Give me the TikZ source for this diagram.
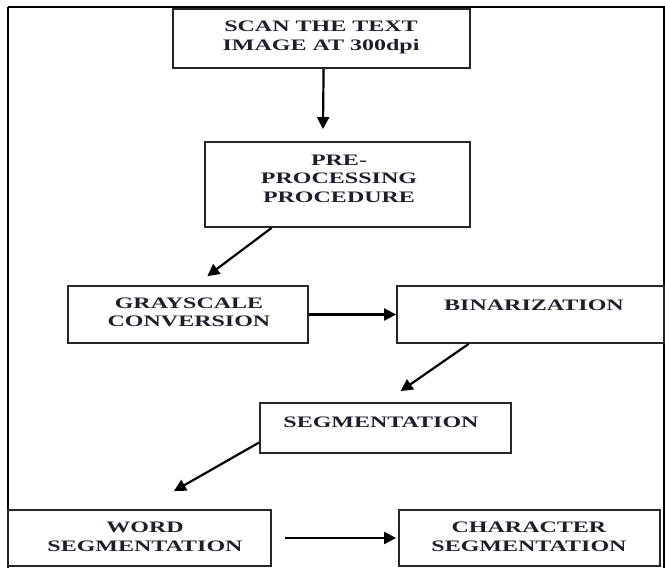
\documentclass[tikz,border=0pt]{standalone}
\usepackage{fontspec}
\usetikzlibrary{arrows.meta,calc}
\newfontfamily\boxfont{Liberation Serif}[FakeStretch=1.5]
\definecolor{ink}{HTML}{1E1E2C}
\definecolor{edge}{HTML}{262626}
\begin{document}
\begin{tikzpicture}[x=1pt,y=-1pt,
  box/.style={draw=edge, line width=1.8pt, inner sep=0pt, fill=none},
  txt/.style={font=\boxfont\bfseries\fontsize{16}{18.5}\selectfont,
    text=ink, align=center, inner sep=0pt},
  arr/.style={draw=black, line width=2.2pt,
    -{Triangle[length=12pt,width=12pt]}},
  frame/.style={draw=black, line width=2.6pt}]
  \useasboundingbox (0,0) rectangle (665,568);
  \clip (0,0) rectangle (665,568);

  % outer border
  \draw[frame] (8,7) -- (664,7) -- (664,600) (8,7) -- (8,600);

  % process boxes
  \node[box, minimum width=297pt, minimum height=59pt] (scan) at (321.5,38.5) {};
  \node[box, minimum width=265pt, minimum height=85pt] (pre)  at (337.5,184.5) {};
  \node[box, minimum width=240pt, minimum height=57pt] (gray) at (188,314.5) {};
  \node[box, minimum width=267pt, minimum height=57pt] (bin)  at (530.5,314.5) {};
  \node[box, minimum width=251pt, minimum height=50pt] (seg)  at (385.5,428) {};
  \node[box, minimum width=263pt, minimum height=56pt] (word) at (139.5,538) {};
  \node[box, minimum width=261pt, minimum height=56pt] (char) at (529.5,538) {};

  % box captions
  \node[txt] (scan-t) at (321,37.5) {SCAN THE TEXT\\IMAGE AT 300dpi};
  \node[txt] (pre-t)  at (339,178.5) {PRE-\\PROCESSING\\PROCEDURE};
  \node[txt] (gray-t) at (189,312.5) {GRAYSCALE\\CONVERSION};
  \node[txt] (bin-t)  at (534,305) {BINARIZATION};
  \node[txt] (seg-t)  at (381,422) {SEGMENTATION};
  \node[txt] (word-t) at (145,537) {WORD\\SEGMENTATION};
  \node[txt] (char-t) at (529,537) {CHARACTER\\SEGMENTATION};

  % flow
  \draw[arr, shorten >=12pt] ($(scan.south west)!0.507!(scan.south east)$)
    -- ($(pre.north west)!0.445!(pre.north east)$);
  \draw[arr] ($(pre.south west)!0.253!(pre.south east)$)
    -- ($(gray.north west)!0.58!(gray.north east)+(0,-9)$);
  \draw[arr] (gray.east) -- (bin.west);
  \draw[arr] ($(bin.south west)!0.27!(bin.south east)$)
    -- ($(seg.north west)!0.56!(seg.north east)+(0,-11)$);
  \draw[arr] ($(seg.north west)!0.78!(seg.south west)$)
    -- ($(word.north west)!0.63!(word.north east)+(0,-18)$);
  \draw[arr, shorten <=13pt, shorten >=2pt] (word.east) -- (char.west);
\end{tikzpicture}
\end{document}
